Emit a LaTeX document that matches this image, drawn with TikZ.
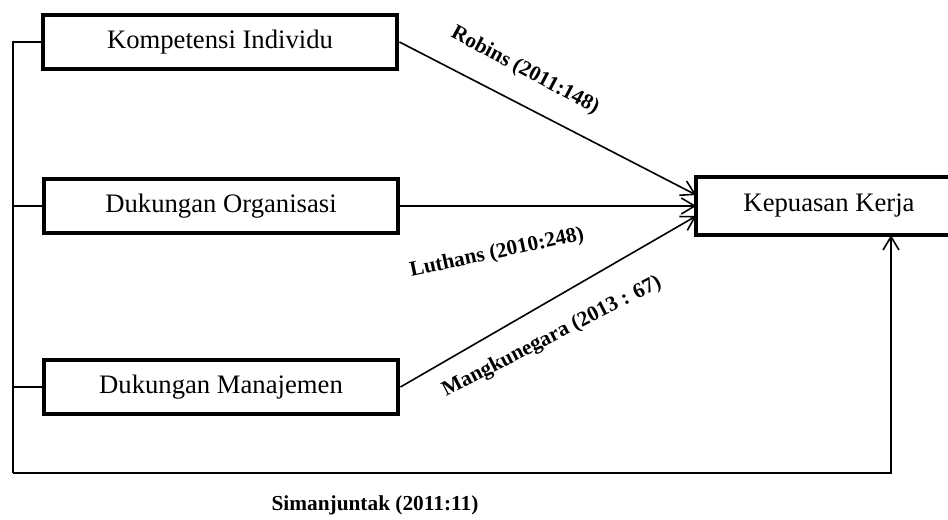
\documentclass[tikz,border=0pt]{standalone}
\usepackage{fontspec}
\setmainfont{Liberation Serif}
\usetikzlibrary{arrows.meta,positioning,calc}
\tikzset{
varbox/.style = {draw, line width=3.2pt, rectangle, inner sep=0pt,
                 minimum width=#1, minimum height=40.5pt,
                 font=\fontsize{20}{24}\selectfont},
link/.style = {line width=1.2pt, -{Straight Barb[length=10pt,width=12pt,line width=1.2pt]}},
bus/.style = {line width=1.2pt},
cite/.style = {font=\fontsize{16}{19}\bfseries\selectfont, inner sep=1pt}
}

\begin{document}
\begin{tikzpicture}[x=0.75pt,y=-0.75pt]
  \useasboundingbox (0,0) rectangle (948,520);

  \node[varbox=266pt] (ki) at (220,42) {Kompetensi Individu};
  \node[varbox=266pt] (do) at (221,206) {Dukungan Organisasi};
  \node[varbox=266pt] (dm) at (221,387) {Dukungan Manajemen};
  % box runs off the right edge of the page
  \node[varbox=196pt, draw=none] (ke) at (829,206) {Kepuasan Kerja};
  \draw[line width=3.2pt] ([xshift=20pt]ke.north east) -| (ke.south west)
                          -- ([xshift=20pt]ke.south east);

  \coordinate (bus) at (13,473);
  \coordinate (up) at (891,473);

  \draw[link] (ki.east) -- ($(ke.west)+(0,-11)$);
  \draw[link] (do.east) -- (ke.west);
  \draw[link] (dm.east) -- ($(ke.west)+(0,10)$);

  \draw[bus] (ki.west) -- (ki.west -| bus) -- (bus);
  \draw[bus] (do.west) -- (do.west -| bus);
  \draw[bus] (dm.west) -- (dm.west -| bus);
  \draw[link] (bus) -- (up) -- (up |- ke.south);

  \node[cite, rotate=-28] (robins) at (525,71) {Robins (2011:148)};
  \node[cite, rotate=12] (luthans) at (497,253) {Luthans (2010:248)};
  \node[cite, rotate=27] (mangku) at (552,337) {Mangkunegara (2013 : 67)};
  \node[cite] (siman) at (375,505) {Simanjuntak (2011:11)};
\end{tikzpicture}
\end{document}
